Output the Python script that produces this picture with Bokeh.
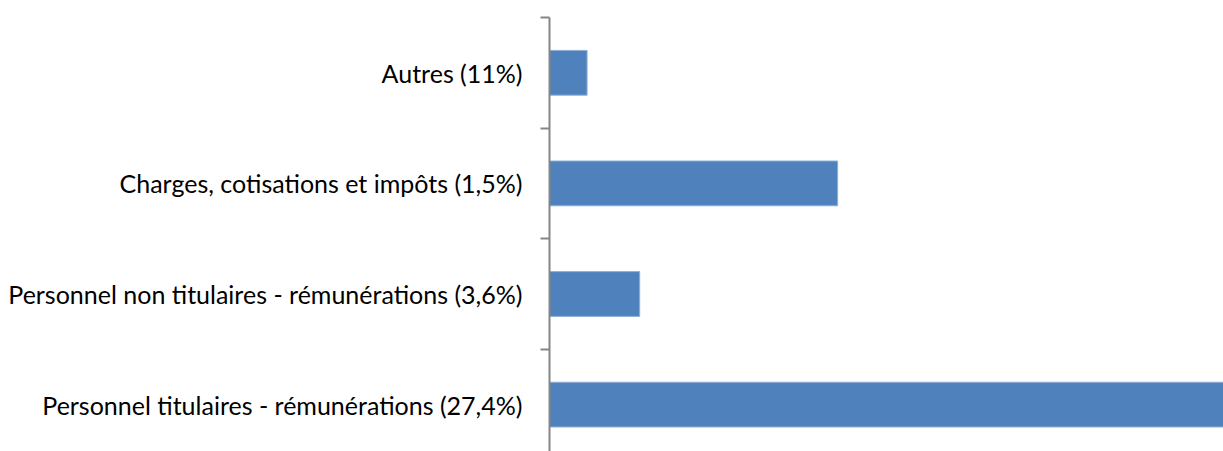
from bokeh.plotting import figure
from bokeh.models import Range1d, FixedTicker, ColumnDataSource
from bokeh.embed import file_html
from bokeh.resources import INLINE

# Data (bottom to top)
categories = [
    "Personnel titulaires - rémunérations (27,4%)",
    "Personnel non titulaires - rémunérations (3,6%)",
    "Charges, cotisations et impôts (1,5%)",
    "Autres (11%)",
]
values = [27.4, 3.6, 11.5, 1.5]

positions = list(range(len(categories)))
source = ColumnDataSource(dict(y=positions, v=values))

p = figure(
    output_backend="svg",
    toolbar_location=None,
    frame_width=674,
    frame_height=434,
    min_border_left=549,
    min_border_right=0,
    min_border_top=17,
    min_border_bottom=0,
    x_range=Range1d(0, 26.9),
    y_range=Range1d(-0.424, len(categories) - 0.5),
)

p.hbar(y="y", left=0, right="v", height=0.405, source=source,
       fill_color="#4F81BD", line_color="#8FB0D8", line_width=1)

p.xaxis.visible = False
p.xgrid.visible = False
p.ygrid.visible = False
p.outline_line_color = None
p.background_fill_color = "white"
p.border_fill_color = "white"

ax = p.yaxis[0]
ax.ticker = FixedTicker(ticks=positions,
                        minor_ticks=[i - 0.5 for i in range(len(categories) + 1)])
ax.major_label_overrides = {i: c for i, c in zip(positions, categories)}
ax.major_tick_out = 0
ax.major_tick_in = 0
ax.minor_tick_out = 9
ax.minor_tick_in = 0
ax.minor_tick_line_color = "#868686"
ax.minor_tick_line_width = 2
ax.axis_line_color = "#868686"
ax.axis_line_width = 2
ax.major_label_text_font = "Lato"
ax.major_label_text_font_size = "25px"
ax.major_label_text_color = "#000000"
ax.major_label_standoff = 18

open("out.html", "w").write(file_html(p, INLINE))
